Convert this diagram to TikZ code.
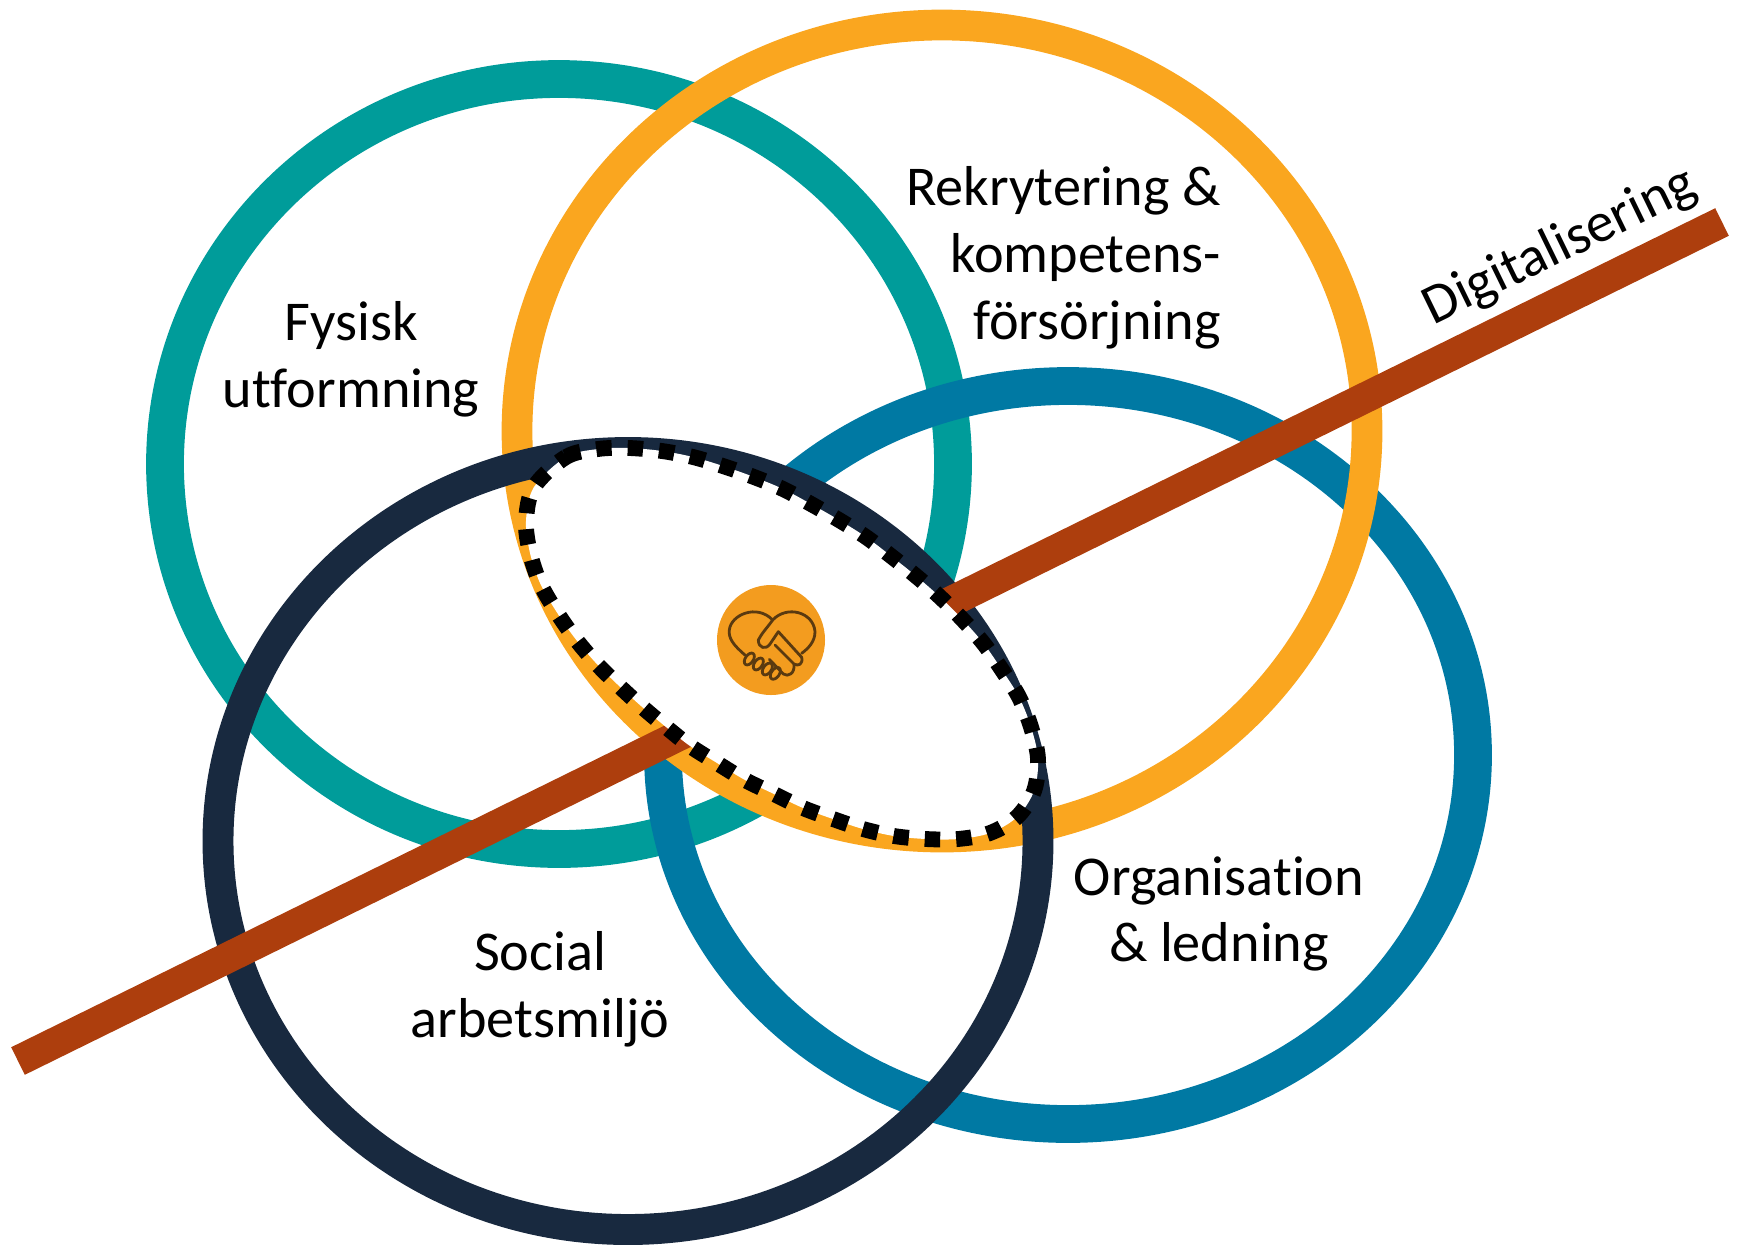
\documentclass[tikz,border=0pt]{standalone}
\usepackage{fontspec}
\usepackage{xcolor}
\usetikzlibrary{shapes, positioning}
\setmainfont[Ligatures=NoCommon]{Carlito}
\definecolor{ringteal}{HTML}{009C9A}
\definecolor{ringorange}{HTML}{FAA61F}
\definecolor{ringblue}{HTML}{0079A3}
\definecolor{ringnavy}{HTML}{18293F}
\definecolor{linebrown}{HTML}{AD3E0D}
\definecolor{iconorange}{HTML}{F39C1F}
\definecolor{iconbrown}{HTML}{5A3A10}
\tikzset{
    label text/.style={font=\fontsize{32}{38}\selectfont, align=center, text=black, inner sep=0pt},
    hand line/.style={iconbrown, line width=1.6pt, line cap=round, line join=round}
}

\begin{document}
\begin{tikzpicture}[x=.02cm, y=-.02cm]
        \useasboundingbox (0, 0) rectangle (1746, 1245);

        \draw[ringteal, line width=21.5pt] (559, 464) ellipse [x radius=394, y radius=385];
        \draw[ringblue, line width=21.5pt] (1068, 755) ellipse [x radius=405, y radius=369];
        \draw[ringorange, line width=17.5pt] (942, 431) ellipse [x radius=425, y radius=406];
        \draw[ringnavy, line width=17.6pt] (628, 841) ellipse [x radius=410, y radius=388.5];

        \coordinate (line start) at (18, 1061);
        \coordinate (line end) at (1722, 222);
        \draw[linebrown, line width=17.5pt] (line start) -- (line end);

        % the shared area in the middle
        \draw[black, fill=white, line width=9pt, dash pattern=on 8.8pt off 9.1pt]
            plot[smooth cycle, tension=.55] coordinates {
            (534, 487) (566, 457) (598, 449) (629, 448) (662, 451) (693, 457) (723, 466)
            (754, 477) (783, 489) (811, 504) (839, 520) (866, 537) (891, 556) (916, 576)
            (940, 597) (963, 620) (984, 644) (1002, 670) (1019, 697) (1031, 727) (1038, 759)
            (1034, 791) (1017, 817) (990, 833) (958, 839) (926, 839) (894, 836) (863, 829)
            (833, 819) (803, 808) (774, 794) (745, 780) (717, 763) (690, 746) (666, 727)
            (641, 706) (617, 684) (595, 662) (574, 637) (556, 611) (540, 583) (530, 553)
            (526, 521)};

        \fill[iconorange] (771, 640) ellipse [x radius=54, y radius=55];
        \begin{scope}[shift={(690, 570)}, x=.00667cm, y=-.00667cm]
            \draw[hand line] (165, 255) .. controls (130, 225) and (115, 205) .. (118, 180)
                .. controls (122, 135) and (200, 100) .. (248, 150)
                .. controls (230, 175) and (215, 190) .. (205, 210)
                .. controls (205, 235) and (228, 240) .. (240, 222)
                -- (265, 185) -- (335, 262)
                .. controls (340, 282) and (325, 290) .. (312, 282) -- (255, 225);
            \draw[hand line] (248, 150) .. controls (290, 105) and (370, 125) .. (375, 185)
                .. controls (375, 215) and (355, 235) .. (335, 250);
            \draw[hand line] (312, 282) .. controls (315, 310) and (295, 322) .. (280, 312) -- (238, 268);
            \foreach \fingerx/\fingery in {178/267, 205/282, 232/297, 256/310}
                \draw[hand line] (\fingerx, \fingery) ellipse [x radius=12, y radius=20, rotate=-35];
        \end{scope}

        \node[label text] (fysisk) at (351, 359) {Fysisk\\utformning};
        \node[label text, align=right, anchor=east] (rekrytering) at (1221, 258) {Rekrytering \&\\kompetens-\\försörjning};
        \node[label text] (social) at (540, 989) {Social\\arbetsmiljö};
        \node[label text] (organisation) at (1219, 914) {Organisation\\\& ledning};
        \node[label text, rotate=26] (digitalisering) at (1560, 247) {Digitalisering};
    \end{tikzpicture}
\end{document}
